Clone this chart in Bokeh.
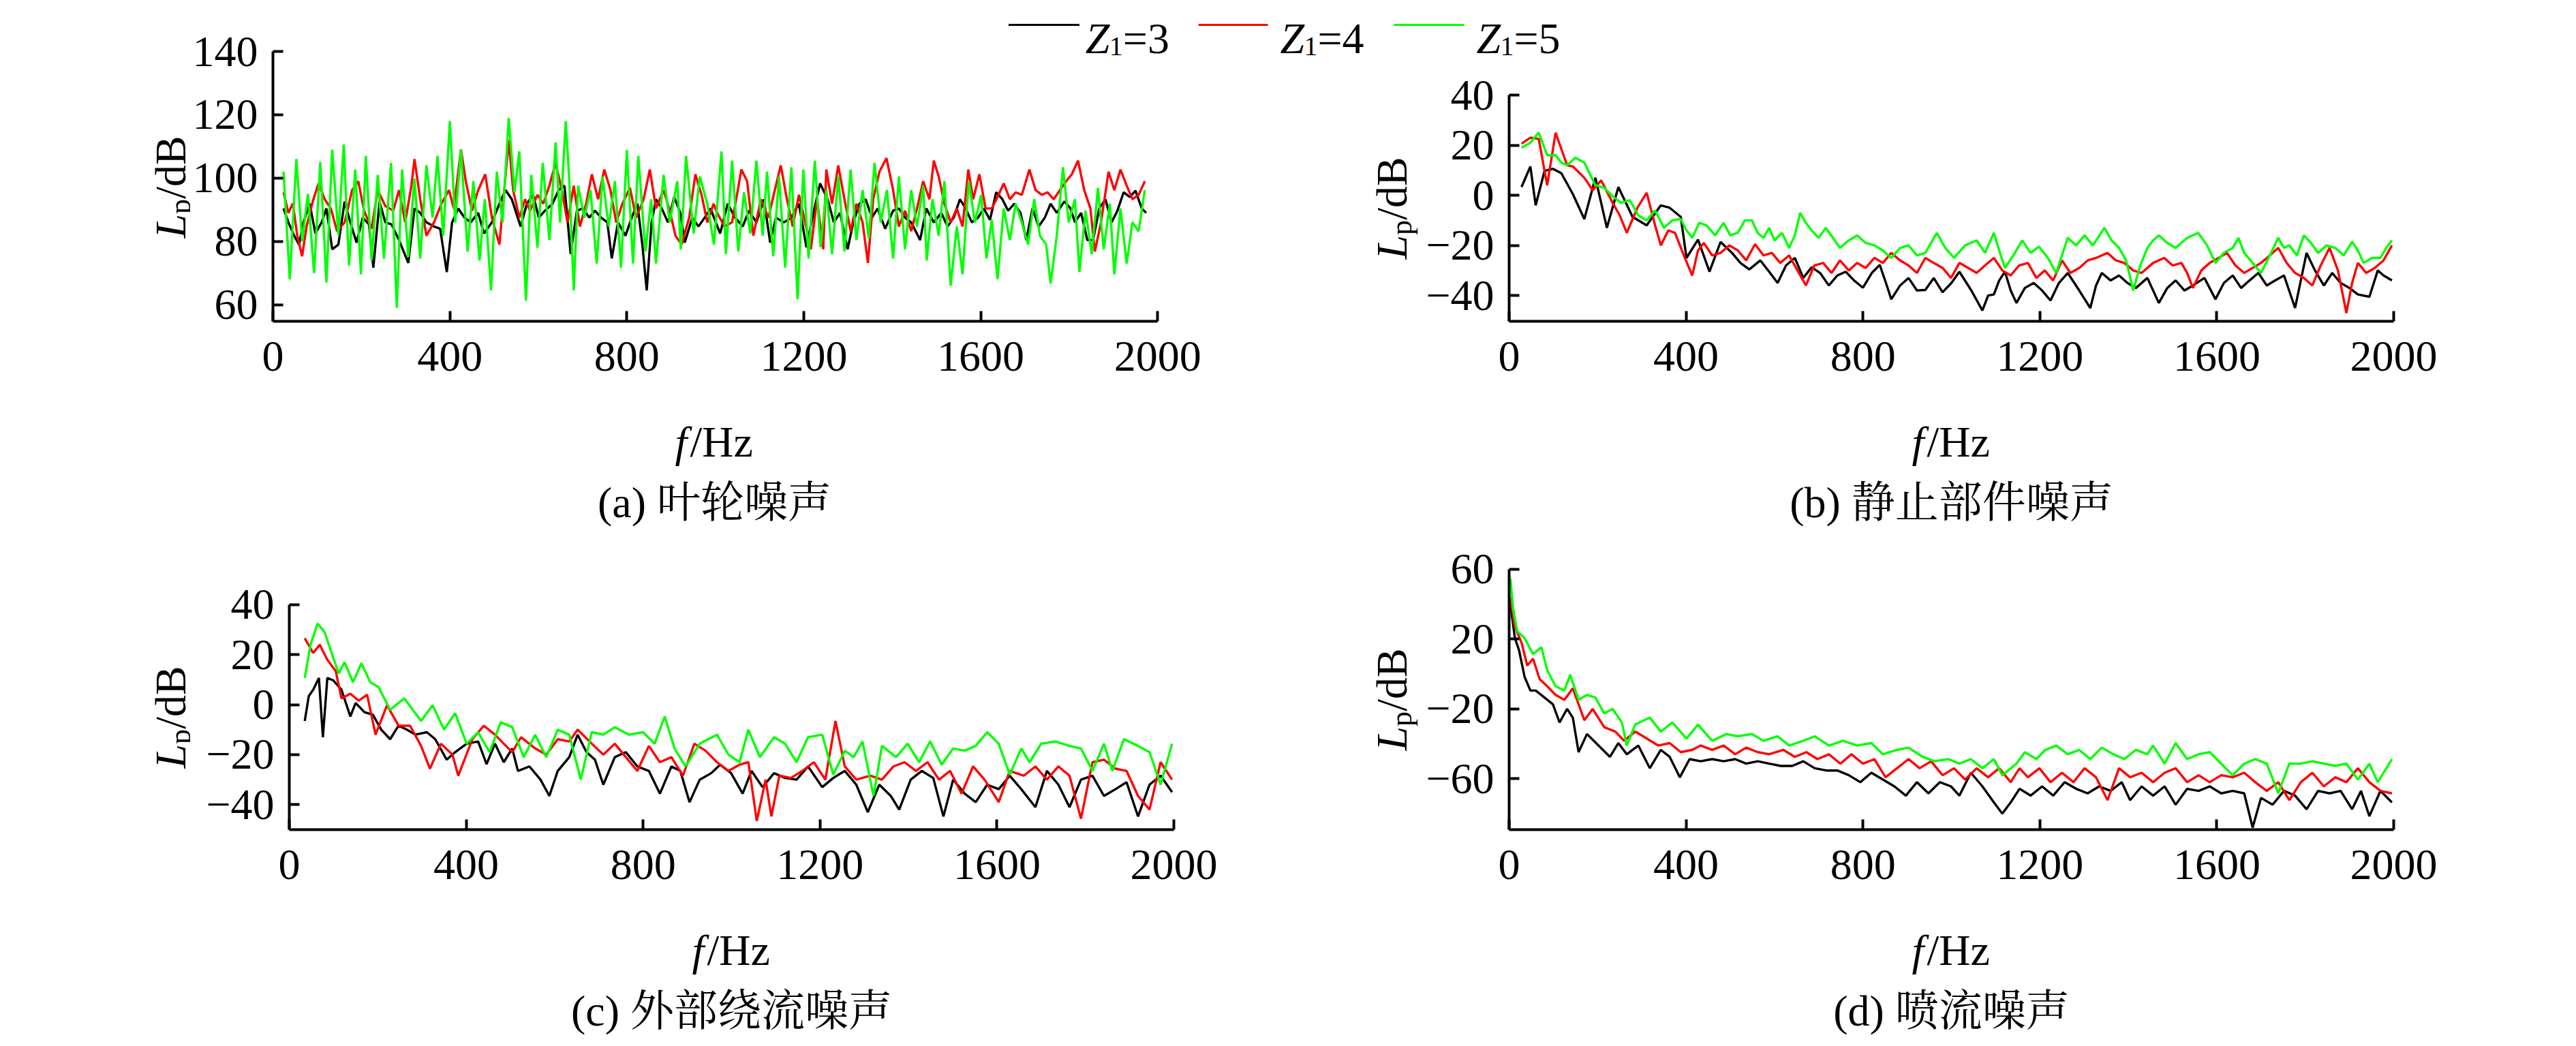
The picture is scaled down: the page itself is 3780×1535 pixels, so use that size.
import math
from bokeh.plotting import figure
from bokeh.layouts import column, row
from bokeh.models import Label, BoxAnnotation, Range1d, FixedTicker
from bokeh.embed import file_html
from bokeh.resources import INLINE

SERIF = "Liberation Serif"
CAP_FONT = "'Liberation Serif', 'Noto Serif CJK SC', 'Noto Sans CJK SC'"
BLACK, RED, GREEN = "#000000", "#ff0000", "#00ff00"

# ---------------- data (frequency Hz, level dB) ----------------
x_ticks = [0, 400, 800, 1200, 1600, 2000]
y_ticks_a = [60, 80, 100, 120, 140]
y_ticks_b = [-40, -20, 0, 20, 40]
y_ticks_c = [-40, -20, 0, 20, 40]
y_ticks_d = [-60, -20, 20, 60]

captions = ["(a) 叶轮噪声", "(b) 静止部件噪声", "(c) 外部绕流噪声", "(d) 喷流噪声"]
legend_labels = ["3", "4", "5"]

# (a) impeller noise
a_z3 = [(24,90.4),(35,86),(48,81.8),(59,79),(69,86),(83,91.9),(96,82.5),(110,86),(121,90.4),(134,77.5),
        (148,79),(162,92.6),(175,86),(189,79.6),(203,87.5),(217,85.4),(227,71.7),(241,92.6),(254,86),(268,85.4),
        (285,80.4),(306,73.2),(320,90.4),(333,89),(347,86),(364,84.7),(378,84),(393,70.3),(405,86),(419,90.4),
        (433,87.5),(447,86),(464,89),(477,82.5),(495,86),(512,91.9),(526,96.2),(540,93.3),(560,84.7),(574,91.9),
        (588,94.7),(601,87.5),(615,89.7),(632,91.9),(646,96.2),(659,97.6),(673,76),(687,89.7),(701,90.4),(715,87.5),
        (728,89.7),(742,87.5),(756,86),(766,74.6),(780,86),(797,81.8),(811,87.5),(824,91.9),(835,79),(845,64.5),
        (856,86),(866,93.3),(879,90.4),(893,86),(907,94),(921,89),(931,79.6),(948,87.5),(962,84.7),(976,87.5),
        (989,90.4),(1011,82.5),(1028,91.9),(1045,87.5),(1062,84.7),(1076,89.7),(1093,86),(1110,93.3),(1124,79.6),
        (1137,87.5),(1155,86),(1172,87.5),(1189,91.9),(1206,78.1),(1223,89.7),(1237,98.3),(1254,93.3),(1268,86),
        (1282,89),(1299,77.5),(1312,86),(1326,91.9),(1340,93.3),(1354,87.5),(1367,90.4),(1384,84),(1402,89.7),
        (1415,90.4),(1429,87.5),(1443,86),(1463,80.4),(1477,90.4),(1494,86),(1511,89),(1525,84.7),(1539,87.5),
        (1553,93.3),(1566,90.4),(1580,86),(1594,87.5),(1607,90.4),(1621,86.8),(1635,95.5),(1649,93.3),(1662,89.7),
        (1676,91.9),(1690,89),(1703,80.4),(1717,90.4),(1731,84.7),(1745,87.5),(1758,91.9),(1772,89),(1789,92.6),
        (1803,90.4),(1813,86),(1827,89),(1841,80.4),(1854,80.4),(1868,90.4),(1882,93.3),(1896,86),(1909,89.7),
        (1923,95.5),(1937,94),(1950,96),(1964,90.4),(1974,89)]
a_z4 = [(24,95.5),(35,89),(45,92),(55,81.8),(66,75.3),(76,84.7),(90,92.6),(103,98.3),(117,93.3),(131,90.4),
        (145,83.2),(162,86),(179,96.2),(193,99),(206,89.7),(223,84),(237,96.2),(254,91.2),(272,89.7),(285,96.2),
        (299,86),(313,97.6),(320,106),(333,93.3),(347,81.8),(364,86),(381,91.9),(398,96.2),(409,90.4),(425,109),
        (436,99),(450,89.7),(464,96.2),(480,101.2),(495,87.5),(512,79),(522,94.7),(533,112),(543,96.2),(557,87.5),
        (570,93.3),(581,89.7),(598,94.7),(611,91.9),(625,97.6),(639,104.8),(653,96.2),(666,86),(680,97.6),(694,84.7),
        (708,91.9),(721,101.2),(735,93.3),(749,102.7),(763,96.2),(776,86),(790,91.9),(807,96.9),(821,87.5),(838,93.3),
        (852,102.7),(866,90.4),(883,96.2),(897,89.7),(910,81.8),(924,79),(941,87.5),(955,101.2),(969,94.7),(982,86),
        (996,91.9),(1004,89),(1021,84.7),(1038,86),(1059,102.7),(1072,99),(1086,81.8),(1103,93.3),(1120,87.5),
        (1137,97.6),(1148,104),(1162,93.3),(1175,84.7),(1189,94.7),(1203,86),(1216,77.5),(1230,93.3),(1244,77.5),
        (1251,102.7),(1264,91.9),(1278,104),(1292,93.3),(1306,83.2),(1319,91.9),(1333,86),(1345,73.2),(1357,93.3),
        (1371,102),(1387,106.3),(1402,96.2),(1415,84.7),(1429,89.7),(1443,83.2),(1456,90.4),(1470,99),(1484,93.3),
        (1494,105.5),(1505,100.5),(1518,91.9),(1532,86),(1546,90.4),(1559,84.7),(1572,102.7),(1583,93.3),(1597,101.2),
        (1611,90.4),(1625,90.4),(1638,94),(1652,98.3),(1666,93.3),(1679,95.5),(1693,94.7),(1710,102.7),(1724,96.2),
        (1738,94.7),(1751,95.5),(1765,93.3),(1779,96.2),(1793,99),(1806,101.2),(1820,105.5),(1834,96.2),(1848,90.4),
        (1858,76.8),(1872,86),(1889,102),(1902,96.2),(1916,102.7),(1930,97.6),(1943,93.3),(1957,94.7),(1971,99)]
a_z5 = [(24,102),(38,68),(53,106),(66,80),(79,95),(93,70),(107,105),(121,67),(134,109),(148,82),
        (160,110.6),(172,72.4),(186,102.7),(199,69.6),(210,107),(223,74),(237,101),(251,74.6),(267,104.8),(280,59),
        (292,102.7),(306,75),(320,99.8),(333,74.6),(347,104),(361,87.5),(372,107),(385,81.8),(400,118),(412,86),
        (425,109),(440,76.8),(453,99),(467,74),(479,93.3),(493,64.5),(506,102),(519,86),(533,119),(546,95.5),
        (557,108.4),(572,61.3),(584,101),(598,78),(610,104.8),(625,80.4),(639,111.3),(649,86),(662,118),(670,99),
        (680,64.5),(690,97.6),(704,87.5),(718,96.2),(732,73),(745,100.5),(759,84.7),(773,99),(787,71.7),(800,108.8),
        (814,73),(826,107),(842,76.8),(855,93.3),(866,73),(883,101),(897,86),(914,99),(922,77.5),(934,107),
        (951,82.5),(965,100.5),(982,91.9),(997,79),(1014,108.4),(1024,76),(1038,105.5),(1052,76.8),(1065,95.5),
        (1079,82.5),(1093,105.5),(1107,81.8),(1117,102),(1131,75.3),(1144,100.5),(1158,71.7),(1172,103.4),(1186,61.7),
        (1199,102.7),(1211,74.6),(1225,105.5),(1238,78.2),(1251,96.2),(1264,76),(1278,100.5),(1292,76.8),(1306,102.7),
        (1319,80.4),(1333,96.2),(1347,81),(1360,104.8),(1374,86),(1388,96.2),(1402,74.6),(1415,100.5),(1429,77.5),
        (1443,96.2),(1456,84.7),(1470,97.6),(1478,74),(1491,93.3),(1505,81.8),(1518,99),(1532,66),(1546,84.7),
        (1559,69.6),(1573,99),(1587,86),(1601,94.7),(1613,74.6),(1625,86.8),(1638,68.1),(1652,90.4),(1666,80.4),
        (1679,91.9),(1693,86),(1707,79),(1721,93.3),(1734,81.8),(1748,79),(1758,66.7),(1772,81.8),(1786,103.4),
        (1799,86),(1813,93.3),(1823,70.3),(1837,89.7),(1851,76),(1865,96.9),(1878,77.5),(1892,91.9),(1902,69.6),
        (1916,90.4),(1930,73),(1943,86),(1957,83.2),(1971,96.2)]

# (b) stationary-part noise
b_z3 = [(28,3.3),(48,11.5),(60,-4),(80,9.7),(99,10.6),(118,8.8),(144,0.5),(170,-9.5),(195,7),(221,-13),
        (247,3.3),(279,-8.6),(311,-12),(343,-4),(363,-5),(388,-8.6),(401,-25),(427,-17.7),(453,-30.5),(478,-18.6),
        (504,-23),(523,-27),(543,-29.6),(568,-26),(590,-31),(607,-35),(626,-28),(646,-25),(665,-33),(684,-28.7),
        (703,-31),(723,-36),(742,-32),(761,-30.5),(780,-34),(800,-36.9),(820,-31),(838,-27.8),(852,-35),(864,-41.5),
        (884,-36),(903,-33),(922,-38),(941,-37.8),(960,-33),(980,-38.7),(1000,-35),(1018,-30.5),(1045,-38),(1070,-46),
        (1083,-40),(1096,-39.6),(1108,-34),(1121,-30.5),(1134,-38),(1147,-43),(1166,-37),(1186,-35),(1205,-38),(1224,-42),
        (1243,-35),(1263,-31),(1289,-38),(1314,-45),(1327,-36),(1340,-31),(1360,-34),(1379,-32),(1398,-35),(1417,-37),
        (1443,-33),(1469,-43),(1488,-37),(1507,-34),(1527,-38),(1546,-36),(1572,-33),(1597,-41.5),(1616,-35),(1636,-32),
        (1655,-37),(1674,-34),(1694,-31),(1713,-36),(1732,-34),(1752,-32),(1777,-45),(1803,-23),(1822,-30),(1842,-36),
        (1861,-31),(1880,-35),(1900,-37),(1919,-39.6),(1945,-40.5),(1964,-30),(1977,-32),(1996,-34)]
b_z4 = [(28,20.6),(48,23),(67,22.5),(86,4),(105,25),(131,12),(144,11.5),(170,7),(189,2),(208,6),
        (234,-3),(250,-8),(266,-15),(290,-5),(311,1),(330,-12),(343,-20),(360,-14),(375,-15),(395,-24),
        (414,-32),(427,-22),(440,-19),(459,-24),(478,-23),(498,-20),(517,-22),(536,-26),(556,-19.5),(575,-24),
        (594,-23),(613,-27),(633,-24),(652,-30),(671,-36),(690,-28),(710,-27),(729,-31),(748,-26),(768,-30),
        (787,-27),(806,-29),(826,-25),(845,-27),(864,-23),(884,-26),(903,-28),(922,-31),(941,-25),(960,-27),
        (980,-29),(999,-33),(1018,-27),(1038,-29),(1057,-31),(1076,-28),(1096,-25),(1115,-30),(1134,-32),(1153,-28),
        (1173,-27),(1192,-33),(1211,-30),(1230,-34),(1250,-26),(1269,-31),(1289,-29),(1308,-26),(1327,-25),(1353,-23),
        (1372,-26),(1391,-27),(1411,-30),(1430,-31),(1456,-27),(1481,-25),(1500,-28),(1520,-27),(1533,-31),(1546,-37),
        (1565,-30),(1584,-27),(1604,-25),(1623,-23),(1642,-28),(1662,-31),(1681,-29),(1700,-27),(1720,-24),(1739,-21),
        (1758,-27),(1777,-31),(1797,-33),(1816,-36),(1835,-28),(1855,-21),(1874,-30),(1893,-47),(1906,-35),(1919,-27),
        (1938,-31),(1957,-29),(1977,-26),(1996,-20)]
b_z5 = [(28,19),(48,21),(67,25),(86,16),(105,16),(118,13),(131,12),(150,15),(170,13),(195,4),
        (215,3),(234,-0.4),(253,-3),(273,-2),(292,-8),(311,-10),(330,-6),(350,-13),(369,-10),(388,-9.5),
        (401,-14),(414,-17),(430,-11),(446,-12),(466,-16),(485,-11),(500,-16),(517,-15),(533,-10),(549,-10),
        (562,-15),(575,-17),(588,-13),(600,-18),(617,-15),(633,-21),(646,-16),(658,-7),(671,-11),(684,-14),
        (700,-17),(716,-13),(732,-17),(748,-21),(768,-18),(787,-16),(806,-19),(826,-20),(845,-22),(864,-25),
        (884,-21),(903,-20),(922,-24),(941,-23),(954,-19),(967,-15),(986,-21),(1006,-25),(1031,-20),(1057,-18),
        (1076,-23),(1096,-15),(1108,-22),(1121,-29),(1140,-24),(1160,-18),(1179,-23),(1198,-20.5),(1218,-25),(1237,-31),
        (1250,-24),(1263,-17),(1282,-20),(1301,-16),(1320,-20),(1346,-13),(1362,-18),(1379,-21),(1395,-26),(1411,-38),
        (1427,-28),(1443,-21),(1456,-18),(1469,-16),(1488,-19),(1507,-21),(1533,-17),(1558,-15),(1578,-20),(1597,-27),
        (1616,-23),(1636,-21),(1649,-17),(1662,-23),(1681,-27),(1700,-31),(1720,-24),(1739,-17),(1752,-21),(1764,-20),
        (1781,-24),(1797,-16),(1813,-19),(1829,-23),(1848,-20),(1868,-21),(1887,-24),(1906,-18.6),(1919,-22),(1932,-27),
        (1951,-25),(1970,-25),(1983,-21),(1996,-18)]

# (c) external flow noise
c_z3 = [(35,-6.5),(44,3.4),(54,6),(67,10.7),(76,-13),(86,10.7),(99,9.8),(118,6),(138,-4.7),(150,0.7),
        (170,-3),(189,-4),(208,-10),(228,-13.8),(247,-8.4),(266,-10),(285,-12),(311,-11),(330,-13.8),(356,-22),
        (375,-19),(401,-15.6),(427,-14.7),(446,-23.8),(465,-15.6),(485,-23),(504,-17.5),(517,-26.5),(543,-24.7),(568,-30),
        (588,-36.5),(607,-26.5),(633,-21),(652,-12),(672,-19),(691,-22),(710,-32),(736,-21),(761,-19),(787,-24.7),
        (813,-26.5),(838,-35.6),(864,-24.7),(884,-26.5),(905,-39),(928,-30),(954,-27.4),(974,-24),(999,-27.4),(1025,-35.6),
        (1045,-26.5),(1070,-33),(1096,-27.4),(1121,-29.3),(1147,-30),(1173,-24.7),(1205,-33),(1230,-29.3),(1256,-26.5),(1282,-32),
        (1308,-43),(1334,-32),(1360,-36.5),(1379,-42),(1405,-30),(1430,-26.5),(1456,-29.3),(1479,-44.7),(1501,-30),(1527,-35.6),
        (1552,-39),(1578,-32),(1604,-33.8),(1629,-28.4),(1655,-33.8),(1687,-41),(1713,-26.5),(1739,-32),(1764,-41),(1790,-30),
        (1816,-28.4),(1842,-36.5),(1868,-33.8),(1893,-31),(1919,-44.7),(1945,-32),(1970,-28.4),(1996,-35)]
c_z4 = [(35,26.6),(54,20.7),(69,24),(86,18),(105,13.5),(118,2.5),(138,4.4),(157,1.6),(176,4),(195,-12),
        (221,-0.2),(247,-8.4),(273,-8.4),(298,-16.5),(318,-25.6),(343,-15.6),(369,-20),(382,-28.4),(414,-13.8),(440,-8.4),
        (465,-12),(485,-15.6),(504,-19),(524,-13),(556,-17.5),(581,-20),(607,-13.8),(633,-14.7),(652,-10),(684,-15.6),
        (710,-20),(736,-15.6),(761,-21),(787,-26.5),(813,-16.5),(838,-23),(864,-21),(890,-28.4),(916,-15.6),(941,-18.4),
        (967,-23),(993,-26.5),(1018,-24),(1038,-23),(1057,-46.5),(1077,-30),(1090,-44.7),(1108,-28.4),(1134,-29.3),(1160,-26.5),
        (1186,-23),(1212,-30),(1235,-6.5),(1256,-24.7),(1282,-30),(1314,-28.4),(1340,-30),(1366,-24.7),(1391,-23),(1417,-26.5),
        (1443,-23),(1469,-30),(1494,-26.5),(1520,-35.6),(1546,-24.7),(1572,-30),(1604,-39),(1629,-26.5),(1661,-28.4),(1687,-24.7),
        (1713,-30),(1739,-24.7),(1764,-28.4),(1790,-45.6),(1816,-23),(1842,-22),(1868,-25.6),(1893,-26.5),(1919,-36.5),(1945,-42),
        (1970,-23),(1996,-30)]
c_z5 = [(35,10.7),(48,24),(64,32.5),(80,29),(99,19),(112,12.5),(125,17),(144,9),(163,16.6),(183,9),
        (202,7),(228,-2),(260,2.5),(298,-6.5),(324,-0.2),(350,-10),(375,-3.4),(401,-15.6),(427,-11),(453,-19),
        (478,-7),(504,-9),(530,-21),(556,-12),(581,-21),(607,-10),(633,-12),(659,-30),(684,-11),(710,-12),
        (736,-9),(768,-12),(800,-11),(826,-15.6),(849,-4.7),(871,-17.5),(896,-24.7),(928,-15.6),(967,-12),(993,-20),
        (1018,-23),(1038,-10),(1064,-21),(1096,-13),(1121,-15.6),(1147,-23),(1173,-13),(1205,-12),(1230,-28),(1256,-18.4),
        (1276,-21),(1296,-14.7),(1321,-36.5),(1340,-16.5),(1372,-21),(1398,-15.6),(1424,-23),(1449,-14.7),(1475,-24),(1501,-17.5),
        (1527,-18.4),(1552,-16.5),(1578,-11),(1604,-15.6),(1629,-28),(1655,-17.5),(1674,-23),(1700,-15.6),(1732,-14.7),(1764,-16.5),
        (1790,-17.5),(1816,-26.5),(1842,-15.6),(1861,-26.5),(1887,-13.8),(1919,-16.5),(1945,-19),(1970,-32),(1996,-15.6)]

# (d) jet noise
d_z3 = [(3,40),(13,20.5),(22,14),(35,-1.7),(48,-9.5),(60,-9.5),(80,-13.5),(99,-17.4),(114,-27.8),(131,-20),
        (144,-25),(157,-44.8),(176,-34.4),(202,-41),(228,-47.5),(247,-39.6),(266,-46),(292,-41),(318,-54),(343,-43.5),
        (363,-47.5),(386,-59.2),(408,-48.8),(433,-50),(459,-48.8),(485,-50),(511,-48.8),(536,-51.4),(562,-50),(588,-51.4),
        (614,-52.7),(640,-52.7),(665,-50),(691,-54),(717,-55.3),(742,-55.3),(768,-58),(794,-62),(819,-56.6),(845,-60.5),
        (871,-64.4),(897,-69.7),(922,-62),(948,-68.4),(974,-62),(999,-64.4),(1018,-69.7),(1044,-56.6),(1070,-64.4),(1096,-73.6),
        (1115,-80),(1134,-73.6),(1154,-65.8),(1179,-69.7),(1205,-64.4),(1230,-69.7),(1256,-62),(1282,-65.8),(1308,-68.4),(1334,-64.4),
        (1360,-67),(1385,-62),(1404,-72.3),(1430,-64.4),(1456,-69.7),(1482,-64.4),(1507,-74.9),(1533,-65.8),(1559,-67),(1584,-64.4),
        (1610,-68.4),(1636,-67),(1662,-68.4),(1681,-88),(1700,-71),(1726,-74.9),(1752,-67),(1777,-69.7),(1803,-77.5),(1829,-67),
        (1855,-68.4),(1880,-67),(1906,-77.5),(1926,-67),(1945,-81.5),(1970,-67),(1996,-73.6)]
d_z4 = [(3,44),(13,27),(28,18),(41,4.8),(54,8.8),(69,-3),(86,-7),(105,-12),(125,-14.8),(144,-8.2),
        (170,-26.5),(189,-20),(215,-30.5),(240,-33),(260,-38.3),(285,-33),(311,-37),(337,-41),(363,-39.6),(388,-44.8),
        (414,-43.5),(433,-41),(459,-43.5),(485,-41),(511,-46),(536,-42.2),(562,-44.8),(588,-46),(620,-43.5),(646,-47.5),
        (672,-44.8),(697,-48.8),(723,-46),(749,-51.4),(774,-46),(800,-51.4),(826,-48.8),(851,-59.2),(877,-54),(903,-48.8),
        (928,-54),(954,-50),(980,-58),(1006,-54),(1031,-60.5),(1057,-54),(1083,-59.2),(1108,-54),(1134,-62),(1154,-54),
        (1173,-59.2),(1199,-54),(1224,-62),(1250,-56.6),(1276,-62),(1301,-54),(1327,-59.2),(1353,-72.3),(1379,-54),(1404,-59.2),
        (1430,-56.6),(1456,-62),(1482,-56.6),(1507,-54),(1533,-62),(1559,-58),(1584,-62),(1610,-58),(1636,-59.2),(1662,-56.6),
        (1687,-62),(1713,-67),(1739,-62),(1764,-72.3),(1790,-62),(1816,-56.6),(1842,-64.4),(1868,-59.2),(1893,-62),(1919,-54),
        (1945,-62),(1970,-67),(1996,-68.4)]
d_z5 = [(3,54.5),(9,37.5),(18,24.6),(35,20.5),(54,11.4),(73,15.3),(86,2.2),(105,-7),(125,-9.5),(138,-0.4),
        (157,-14.8),(176,-12),(195,-13.5),(215,-22.6),(234,-20),(255,-27.8),(266,-41),(285,-29),(318,-25),(343,-33),
        (369,-27.8),(401,-37),(427,-29),(459,-38.3),(491,-34.4),(517,-35.7),(549,-34.4),(575,-38.3),(607,-35.7),(633,-41),
        (665,-38.3),(691,-35.7),(723,-41),(755,-38.3),(787,-41),(819,-39.6),(845,-46),(877,-43.5),(903,-42.2),(935,-47.5),
        (961,-50),(993,-48.8),(1018,-51.4),(1044,-48.8),(1070,-54),(1096,-48.8),(1115,-58),(1147,-51.4),(1166,-44.8),(1192,-48.8),
        (1212,-43.5),(1237,-41),(1263,-46),(1289,-43.5),(1314,-48.8),(1340,-42.2),(1366,-46),(1391,-48.8),(1417,-43.5),(1443,-46),
        (1456,-41),(1482,-51.4),(1507,-39.6),(1533,-48.8),(1559,-46),(1584,-44.8),(1610,-51.4),(1636,-58),(1662,-51.4),(1687,-48.8),
        (1713,-51.4),(1739,-68.4),(1764,-51.4),(1790,-51.4),(1816,-50),(1842,-51.4),(1868,-52.7),(1893,-51.4),(1919,-60.5),(1945,-51.4),
        (1964,-62),(1996,-48.8)]


# ---------------- helpers ----------------
def text_fig(w, h, bottom=0):
    fh = h - bottom
    p = figure(width=w, height=h, x_range=Range1d(0, w), y_range=Range1d(fh, 0),
               x_axis_type=None, y_axis_type=None, output_backend="svg", toolbar_location=None,
               min_border=0, min_border_left=0, min_border_right=0, min_border_top=0,
               min_border_bottom=bottom)
    p.outline_line_color = None
    p.background_fill_color = "white"
    p.border_fill_color = "white"
    return p


def put(p, x, y, text, size=64, italic=False, align="left", baseline="alphabetic",
        angle=0.0, font=SERIF):
    p.add_layout(Label(x=x, y=y, text=text, text_font=font, text_font_size=f"{size}px",
                       text_font_style="italic" if italic else "normal",
                       text_align=align, text_baseline=baseline, angle=angle,
                       text_color="black"))


def swatch(p, x0, x1, ytop, ybot, color):
    p.add_layout(BoxAnnotation(left=x0, right=x1, top=ytop, bottom=ybot,
                               fill_color=color, fill_alpha=1.0, line_color=None))


def page_mapper(ox, oy):
    return lambda px, py: (px - ox, py - oy)


def y_title(p, m, bx, cy):
    # rotated title reading bottom-to-top; each piece anchored at its upper end
    s = cy + 75
    put(p, *m(bx, s - 35.6), "L", italic=True, align="right", angle=math.pi / 2)
    put(p, *m(bx + 14, s - 57.6), "p", size=44, align="right", angle=math.pi / 2)
    put(p, *m(bx, s - 150.1), "/dB", align="right", angle=math.pi / 2)


def x_title_and_caption(p, m, cx, by, cap_y, caption):
    put(p, *m(cx - 58, by), "f", italic=True)
    put(p, *m(cx - 36, by), "/Hz")
    put(p, *m(cx, cap_y), caption, size=64, align="center", baseline="middle", font=CAP_FONT)


def legend_entry(p, m, zx, label):
    put(p, *m(zx, 64), "Z", italic=True)
    put(p, *m(zx + 35, 75), "1", size=40)
    put(p, *m(zx + 55, 64), "=" + label)


def panel(w, h, bl, bb, xscale, yscale, y0, ytop, yticks, series):
    fw = w - bl
    fh = h - bb
    p = figure(width=w, height=h, output_backend="svg", toolbar_location=None,
               x_range=Range1d(0, fw / xscale), y_range=Range1d(y0, y0 + fh / yscale),
               min_border=0, min_border_left=bl, min_border_right=0, min_border_top=0,
               min_border_bottom=bb)
    p.outline_line_color = None
    p.xgrid.grid_line_color = None
    p.ygrid.grid_line_color = None
    p.background_fill_color = "white"
    p.border_fill_color = "white"
    for ax, ticks in ((p.xaxis, x_ticks), (p.yaxis, yticks)):
        ax.ticker = FixedTicker(ticks=ticks)
        ax.minor_tick_line_color = None
        ax.major_tick_in = 15
        ax.major_tick_out = 0
        ax.axis_line_width = 4
        ax.major_tick_line_width = 4
        ax.axis_line_color = "black"
        ax.major_tick_line_color = "black"
        ax.major_label_text_font = SERIF
        ax.major_label_text_font_size = "64px"
        ax.major_label_text_color = "black"
    p.xaxis.bounds = (0, 2000)
    p.yaxis.bounds = (y0, ytop)
    p.xaxis.major_label_standoff = 30
    p.yaxis.major_label_standoff = 22
    p.yaxis.major_label_overrides = {t: "\u2212" + str(-t) for t in yticks if t < 0}
    for pts, col in zip(series, (BLACK, RED, GREEN)):
        p.line([q[0] for q in pts], [q[1] for q in pts], line_color=col, line_width=3.4)
    return p


# ---------------- top-left quadrant (page x 8..1872, y 8..790) ----------------
ylab_a = text_fig(279, 582, bottom=111)
y_title(ylab_a, page_mapper(8, 8), 258, 282)
fa = panel(1585, 582, 119, 111, 0.65, 4.645, 54.75, 140, y_ticks_a, (a_z3, a_z4, a_z5))
text_a = text_fig(1864, 200)
x_title_and_caption(text_a, page_mapper(8, 590), 1056, 656, 745, captions[0])

# legend part drawn inside fa's frame (frame left page x 406, bottom page y 479)
def map_a(px, py):
    return ((px - 406) / 0.65, 54.75 + (479 - py) / 4.645)

x0, yt = map_a(1487, 42.5)
x1, yb = map_a(1591, 45.5)
swatch(fa, x0, x1, yt, yb, BLACK)
legend_entry(fa, map_a, 1600, legend_labels[0])
x0, yt = map_a(1766, 42.5)
x1, yb = map_a(1868, 45.5)
swatch(fa, x0, x1, yt, yb, RED)

# ---------------- top-right quadrant (page x 1872..3772, y 8..790) ----------------
band = text_fig(1900, 92)
mb = page_mapper(1872, 8)
legend_entry(band, mb, 1886, legend_labels[1])
gx0, gy0 = mb(2053, 42.5)
gx1, gy1 = mb(2156, 45.5)
swatch(band, gx0, gx1, gy0, gy1, GREEN)
legend_entry(band, mb, 2174, legend_labels[2])

ylab_b = text_fig(218, 490, bottom=111)
y_title(ylab_b, page_mapper(1872, 100), 2050, 313)
fb = panel(1682, 490, 132, 111, 0.649, 3.676, -50.3, 40, y_ticks_b, (b_z3, b_z4, b_z5))
text_b = text_fig(1900, 200)
x_title_and_caption(text_b, page_mapper(1872, 590), 2871, 656, 745, captions[1])

# ---------------- bottom-left quadrant (page x 8..1872, y 790..1527) ----------------
ylab_c = text_fig(279, 546, bottom=111)
y_title(ylab_c, page_mapper(8, 790), 258, 1060)
fc = panel(1585, 546, 145, 111, 0.649, 3.667, -50, 40, y_ticks_c, (c_z3, c_z4, c_z5))
text_c = text_fig(1864, 191)
x_title_and_caption(text_c, page_mapper(8, 1336), 1081, 1402, 1491, captions[2])

# ---------------- bottom-right quadrant (page x 1872..3772, y 790..1527) ----------------
ylab_d = text_fig(218, 546, bottom=111)
y_title(ylab_d, page_mapper(1872, 790), 2050, 1034)
fd = panel(1682, 546, 132, 111, 0.649, 2.561, -89.2, 60, y_ticks_d, (d_z3, d_z4, d_z5))
text_d = text_fig(1900, 191)
x_title_and_caption(text_d, page_mapper(1872, 1336), 2871, 1402, 1491, captions[3])

TL = column(row(ylab_a, fa), text_a)
TR = column(band, row(ylab_b, fb), text_b)
BL = column(row(ylab_c, fc), text_c)
BR = column(row(ylab_d, fd), text_d)
layout = column(row(TL, TR), row(BL, BR))

open("out.html", "w").write(file_html(layout, INLINE))
